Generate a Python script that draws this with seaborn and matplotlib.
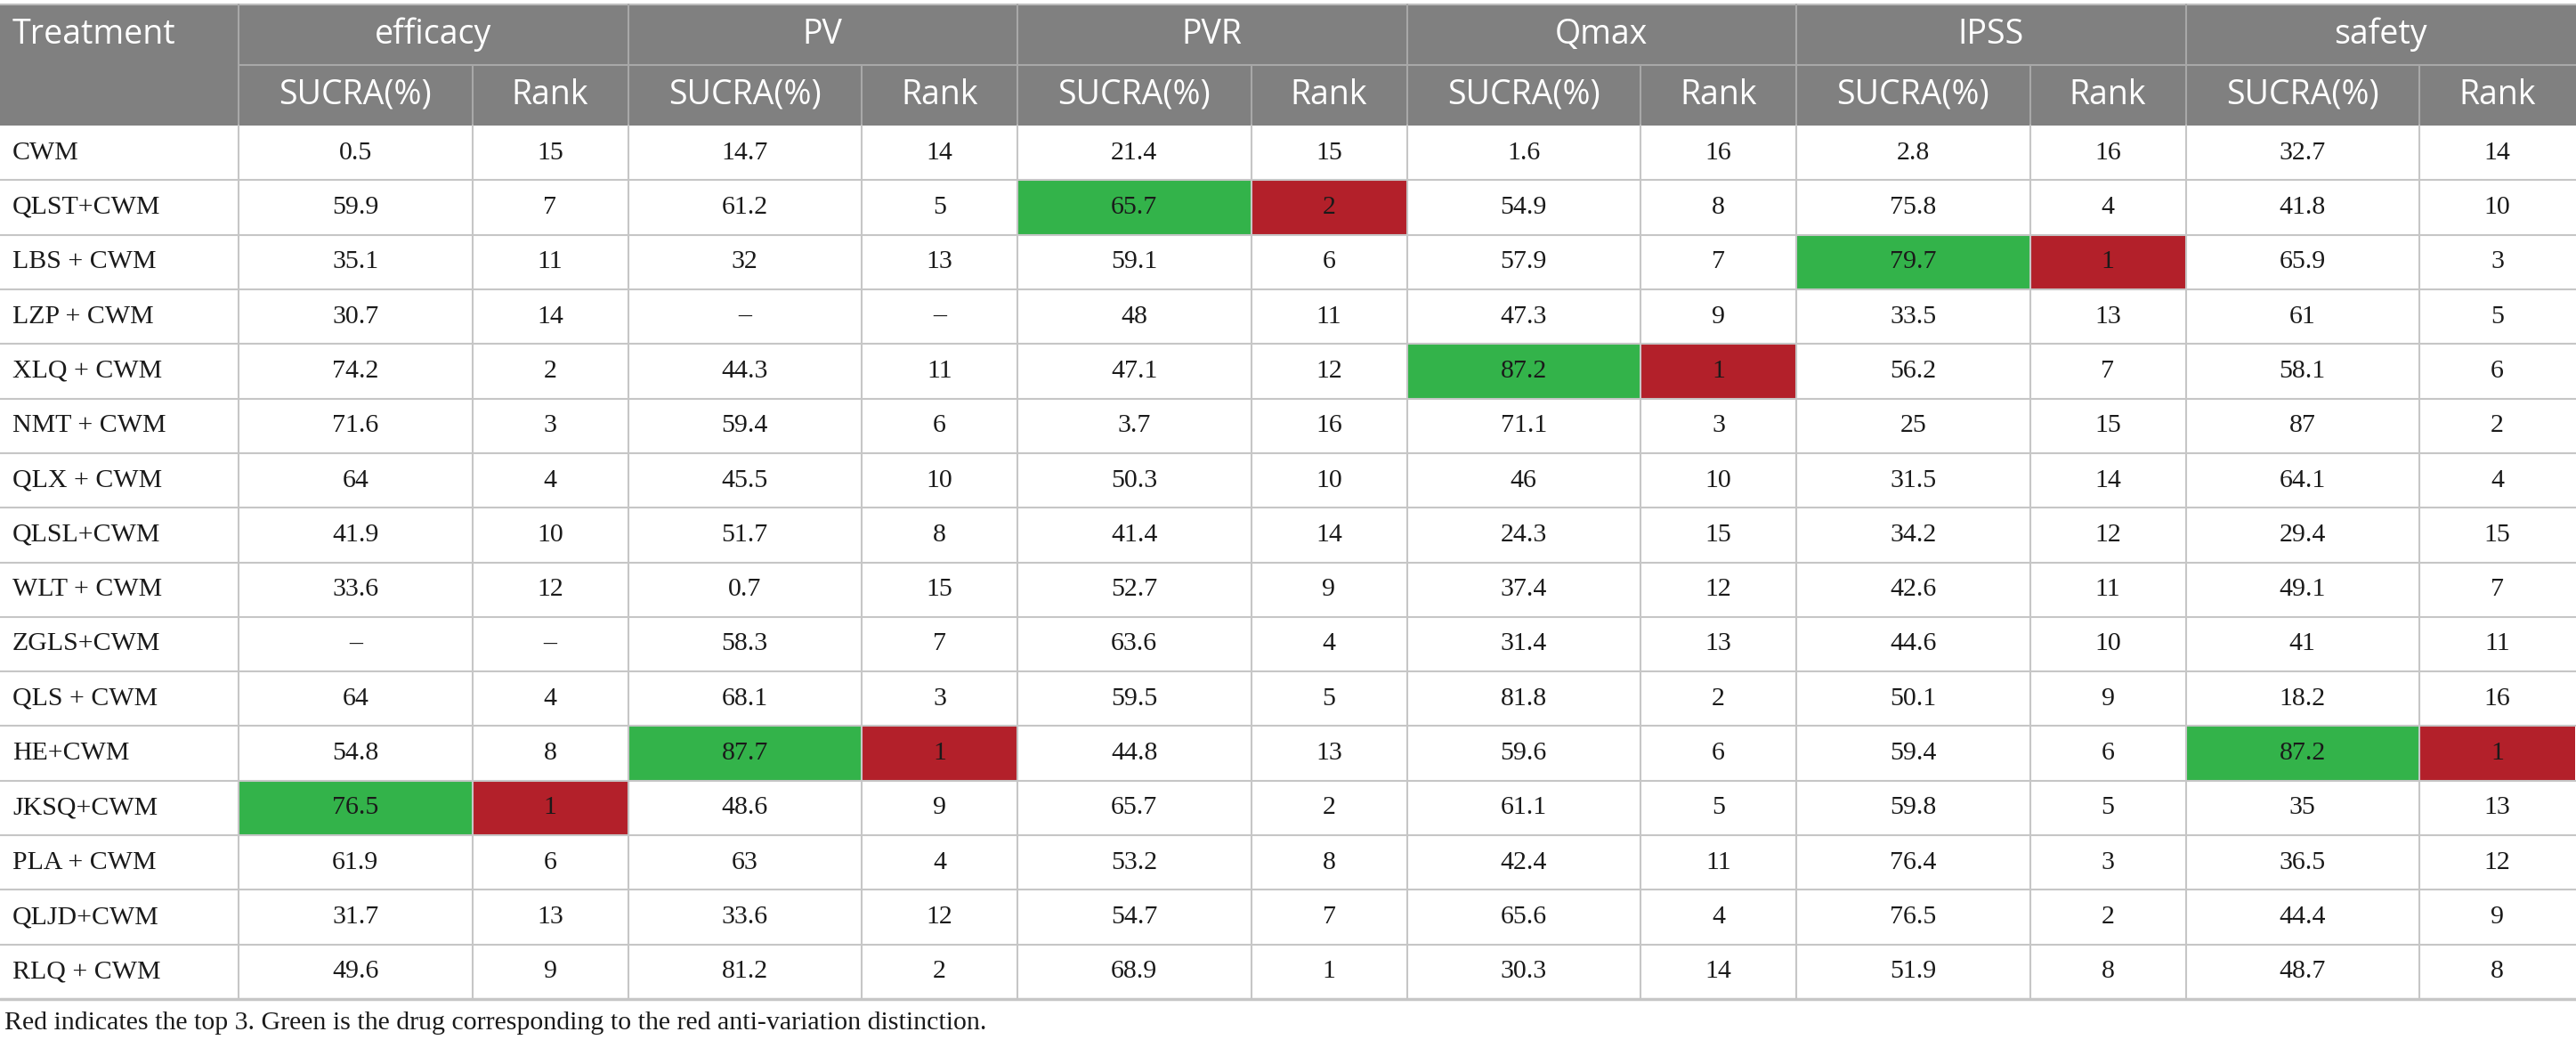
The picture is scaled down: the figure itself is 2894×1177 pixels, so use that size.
import numpy as np
import pandas as pd
import matplotlib
matplotlib.use("Agg")
import matplotlib.pyplot as plt
from matplotlib.colors import ListedColormap
from matplotlib.patches import Rectangle
import seaborn as sns

treatments = ["CWM", "QLST+CWM", "LBS + CWM", "LZP + CWM", "XLQ + CWM", "NMT + CWM",
              "QLX + CWM", "QLSL+CWM", "WLT + CWM", "ZGLS+CWM", "QLS + CWM", "HE+CWM",
              "JKSQ+CWM", "PLA + CWM", "QLJD+CWM", "RLQ + CWM"]
outcomes = ["efficacy", "PV", "PVR", "Qmax", "IPSS", "safety"]

efficacy_sucra = [0.5, 59.9, 35.1, 30.7, 74.2, 71.6, 64, 41.9, 33.6, None, 64, 54.8, 76.5, 61.9, 31.7, 49.6]
efficacy_rank = [15, 7, 11, 14, 2, 3, 4, 10, 12, None, 4, 8, 1, 6, 13, 9]
pv_sucra = [14.7, 61.2, 32, None, 44.3, 59.4, 45.5, 51.7, 0.7, 58.3, 68.1, 87.7, 48.6, 63, 33.6, 81.2]
pv_rank = [14, 5, 13, None, 11, 6, 10, 8, 15, 7, 3, 1, 9, 4, 12, 2]
pvr_sucra = [21.4, 65.7, 59.1, 48, 47.1, 3.7, 50.3, 41.4, 52.7, 63.6, 59.5, 44.8, 65.7, 53.2, 54.7, 68.9]
pvr_rank = [15, 2, 6, 11, 12, 16, 10, 14, 9, 4, 5, 13, 2, 8, 7, 1]
qmax_sucra = [1.6, 54.9, 57.9, 47.3, 87.2, 71.1, 46, 24.3, 37.4, 31.4, 81.8, 59.6, 61.1, 42.4, 65.6, 30.3]
qmax_rank = [16, 8, 7, 9, 1, 3, 10, 15, 12, 13, 2, 6, 5, 11, 4, 14]
ipss_sucra = [2.8, 75.8, 79.7, 33.5, 56.2, 25, 31.5, 34.2, 42.6, 44.6, 50.1, 59.4, 59.8, 76.4, 76.5, 51.9]
ipss_rank = [16, 4, 1, 13, 7, 15, 14, 12, 11, 10, 9, 6, 5, 3, 2, 8]
safety_sucra = [32.7, 41.8, 65.9, 61, 58.1, 87, 64.1, 29.4, 49.1, 41, 18.2, 87.2, 35, 36.5, 44.4, 48.7]
safety_rank = [14, 10, 3, 5, 6, 2, 4, 15, 7, 11, 16, 1, 13, 12, 9, 8]

# row highlighted (green SUCRA / red rank) for each outcome
highlight_row = ["JKSQ+CWM", "HE+CWM", "QLST+CWM", "XLQ + CWM", "LBS + CWM", "HE+CWM"]

footnote = "Red indicates the top 3. Green is the drug corresponding to the red anti-variation distinction."

series = [efficacy_sucra, efficacy_rank, pv_sucra, pv_rank, pvr_sucra, pvr_rank,
          qmax_sucra, qmax_rank, ipss_sucra, ipss_rank, safety_sucra, safety_rank]

GREEN = "#33b34a"
RED = "#b3202a"
HEAD = "#808080"
GRID = "#c6c6c6"
cell_cmap = ListedColormap(["white", GREEN, RED])

W, H = 2894, 1177
col_w = [268] + [262.5, 175] * 6
edges = np.concatenate([[0], np.cumsum(col_w)])
top, hdr_mid, body_top, body_bot = 5, 73, 141, 1122
n = len(treatments)
row_h = (body_bot - body_top) / n

sns.set_theme(style="white")
plt.rcParams["font.family"] = ["Open Sans", "DejaVu Sans"]

fig = plt.figure(figsize=(W / 100, H / 100), dpi=100)
fig.patch.set_facecolor("white")

serif = dict(family="Liberation Serif", fontsize=21.5, color="#1a1a1a")


def fmt(v):
    return "\u2013" if v is None else f"{v:g}"


for j in range(13):
    x0, x1 = edges[j], edges[j + 1]
    ax = fig.add_axes([x0 / W, 1 - body_bot / H, (x1 - x0) / W, (body_bot - body_top) / H])
    if j == 0:
        codes = np.zeros((n, 1))
        labels = np.array(treatments).reshape(-1, 1)
    else:
        k = (j - 1) // 2
        is_rank = (j - 1) % 2 == 1
        codes = np.array([[(2 if is_rank else 1) if t == highlight_row[k] else 0]
                          for t in treatments])
        labels = np.array([fmt(v) for v in series[j - 1]]).reshape(-1, 1)
    df = pd.DataFrame(codes, index=treatments, columns=["c"])
    sns.heatmap(df, ax=ax, cmap=cell_cmap, vmin=0, vmax=2, cbar=False,
                annot=labels, fmt="", annot_kws=serif,
                xticklabels=False, yticklabels=False, linewidths=0)
    if j == 0:
        for t in ax.texts:
            t.set_ha("left")
            t.set_x(14 / (x1 - x0))
    ax.set_axis_off()

ov = fig.add_axes([0, 0, 1, 1], zorder=10)
ov.set_xlim(0, W)
ov.set_ylim(H, 0)
ov.set_axis_off()
ov.patch.set_alpha(0)

ov.add_patch(Rectangle((0, top), W, body_top - top, color=HEAD, lw=0))
ov.plot([0, W], [top, top], color="#bdbdbd", lw=1.5)
ov.plot([edges[1], W], [hdr_mid, hdr_mid], color="#a8a8a8", lw=1.5)
for j in range(1, 13):
    y0 = top if j % 2 == 1 else hdr_mid
    ov.plot([edges[j], edges[j]], [y0, body_top], color="#a8a8a8", lw=1.5)

head_kw = dict(color="white", fontsize=27, va="center")
ov.text(14, (top + hdr_mid) / 2, "Treatment", ha="left", **head_kw)
for k, name in enumerate(outcomes):
    xa, xb, xc = edges[1 + 2 * k], edges[2 + 2 * k], edges[3 + 2 * k]
    ov.text((xa + xc) / 2, (top + hdr_mid) / 2, name, ha="center", **head_kw)
    ov.text((xa + xb) / 2, (hdr_mid + body_top) / 2, "SUCRA(%)", ha="center", **head_kw)
    ov.text((xb + xc) / 2, (hdr_mid + body_top) / 2, "Rank", ha="center", **head_kw)

for i in range(n):
    y = body_top + (i + 1) * row_h
    ov.plot([0, W], [y, y], color=GRID, lw=2.5 if i == n - 1 else 1.5)
for j in range(1, 13):
    ov.plot([edges[j], edges[j]], [body_top, body_bot], color=GRID, lw=1.5)

ov.text(5, 1149, footnote, ha="left", va="center", **serif)

fig.savefig("out.png", dpi=100)
